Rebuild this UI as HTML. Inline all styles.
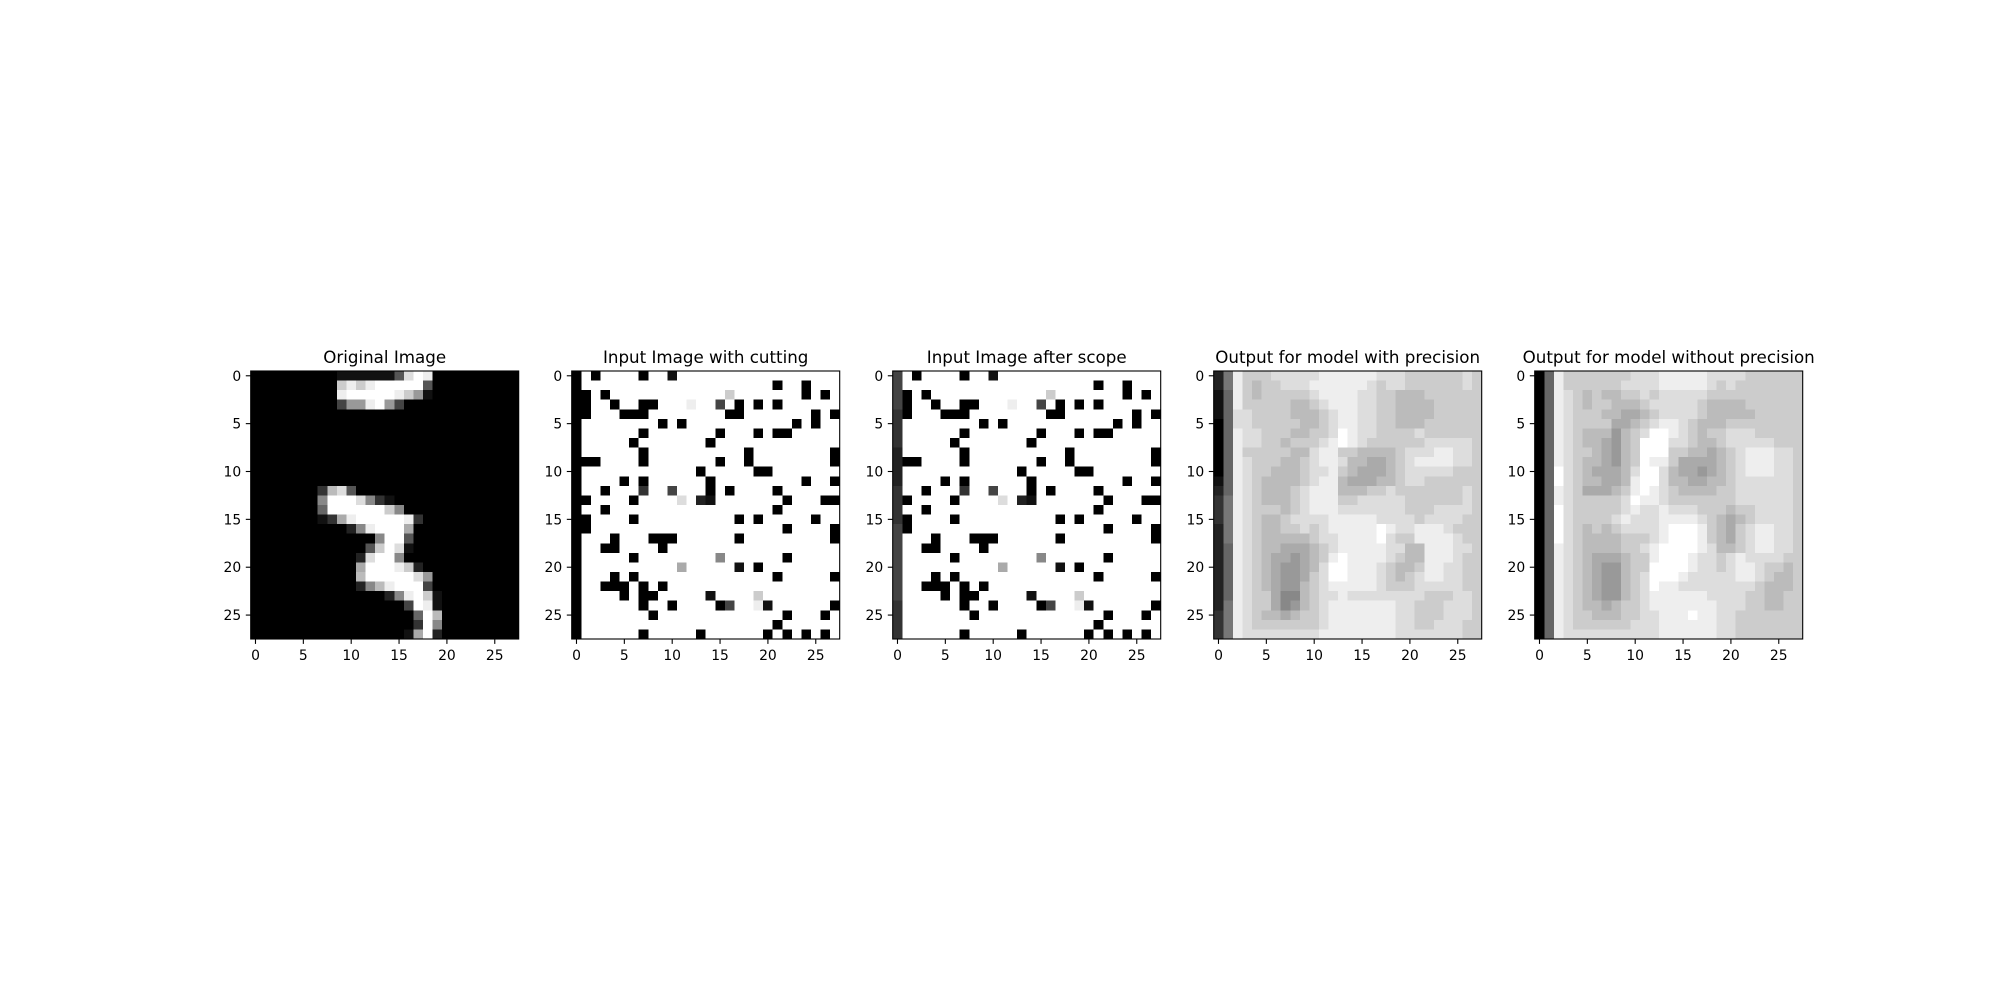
<!DOCTYPE html>
<html><head><meta charset="utf-8">
<style>
html,body{margin:0;padding:0;background:#fff;}
svg{display:block;font-family:"DejaVu Sans","Liberation Sans",sans-serif;}
</style></head>
<body>
<svg id="fig" width="2000" height="1000" viewBox="0 0 2000 1000" xmlns="http://www.w3.org/2000/svg"></svg>
<script>
const titles = ["Original Image","Input Image with cutting","Input Image after scope","Output for model with precision","Output for model without precision"];
const tickValues = [0,5,10,15,20,25];
const original = [
"0000000"+"0011111"+"15dfe00"+"0000000",
"0000000"+"00cecef"+"ffff500"+"0000000",
"0000000"+"00effff"+"fec9100"+"0000000",
"0000000"+"00499ef"+"9400000"+"0000000",
"0000000000000000000000000000",
"0000000000000000000000000000",
"0000000000000000000000000000",
"0000000000000000000000000000",
"0000000000000000000000000000",
"0000000000000000000000000000",
"0000000000000000000000000000",
"0000000000000000000000000000",
"0000000"+"3bd5000"+"0000000"+"0000000",
"0000000"+"8fffd83"+"1000000"+"0000000",
"0000000"+"6ffffff"+"c800000"+"0000000",
"0000000"+"13aefff"+"ffe3000"+"0000000",
"0000000"+"00028ef"+"ffa0000"+"0000000",
"0000000"+"0000008"+"ff50000"+"0000000",
"0000000"+"000005c"+"fd10000"+"0000000",
"0000000"+"00002df"+"f800000"+"0000000",
"0000000"+"0000aff"+"fec2000"+"0000000",
"0000000"+"0000bff"+"fffd900"+"0000000",
"0000000"+"000028b"+"efff400"+"0000000",
"0000000"+"0000000"+"28efc10"+"0000000",
"0000000"+"0000000"+"004fe10"+"0000000",
"0000000"+"0000000"+"0006fb0"+"0000000",
"0000000"+"0000000"+"0003f80"+"0000000",
"0000000"+"0000000"+"001af20"+"0000000"];
const cutting = [
"0f0ffff"+"0ff1fff"+"fffffff"+"fffffff",
"0ffffff"+"fffffff"+"fffffff"+"0ff0fff",
"00f0fff"+"fffffff"+"ffcffff"+"fff0f0f",
"00ff0ff"+"00fffef"+"f4f0f0f"+"0ffffff",
"00fff00"+"0ffffff"+"ff00fff"+"ffff0f0",
"0ffffff"+"ff0f0ff"+"fffffff"+"ff0f0ff",
"0ffffff"+"0ffffff"+"f0fff0f"+"00fffff",
"0fffff0"+"fffffff"+"0ffffff"+"fffffff",
"0ffffff"+"0ffffff"+"ffff0ff"+"ffffff0",
"000ffff"+"0ffffff"+"f0ff0ff"+"ffffff0",
"0ffffff"+"ffffff0"+"fffff00"+"fffffff",
"0ffff0f"+"0ffffff"+"0ffffff"+"fff0ff0",
"0ff0fff"+"3ff4fff"+"0f0ffff"+"0ffffff",
"00ffff0"+"ffffdf2"+"1ffffff"+"f0fff00",
"0ff0fff"+"fffffff"+"fffffff"+"0ffffff",
"00ffff0"+"fffffff"+"fff0f0f"+"ffff0ff",
"00fffff"+"fffffff"+"fffffff"+"f0ffff0",
"0fff0ff"+"f000fff"+"fff0fff"+"ffffff0",
"0ff00ff"+"ff0ffff"+"fffffff"+"fffffff",
"0fffff0"+"fffffff"+"f8fffff"+"f0fffff",
"0ffffff"+"ffffaff"+"fff1f0f"+"fffffff",
"0fff0f0"+"fffffff"+"fffffff"+"0fffff0",
"0ff000f"+"0f0ffff"+"fffffff"+"fffffff",
"0ffff0f"+"00fffff"+"1ffffcf"+"fffffff",
"0ffffff"+"0ff0fff"+"f04ffe1"+"ffffff0",
"0ffffff"+"f0fffff"+"fffffff"+"f0fff0f",
"0ffffff"+"fffffff"+"fffffff"+"0ffffff",
"0ffffff"+"0fffff0"+"ffffff0"+"f0f0f0f"];
const scopeCol0 = "4444333322223333444444443333";
const withPrecision = [
"27ecccd"+"ddddeee"+"eeedddc"+"cccccdc",
"27ecbcc"+"dddeeee"+"eedcddc"+"cccccdc",
"16ecbcc"+"cccdeee"+"eddccbb"+"bcccccc",
"16ecccc"+"cbbcdee"+"eddccbb"+"bbccccc",
"16ddccc"+"cbbbcde"+"eddccbb"+"bbccccc",
"06ddccc"+"ccbbcde"+"eddccbb"+"bcccccc",
"06eddcc"+"cbbccdf"+"eddcccc"+"dcccccc",
"06eddcc"+"bcccdef"+"edccccc"+"cdddddc",
"06ecccc"+"cbbdeec"+"cbbbbcd"+"ddeeddc",
"06edccc"+"bbcdeed"+"bbaabcd"+"eeeeddc",
"06edccb"+"bbcddec"+"baaabcd"+"ddddccc",
"16edcbb"+"bbcdeeb"+"aaabbcd"+"dcccccc",
"26edcbb"+"bcdeeeb"+"bbccdcc"+"cccccdc",
"37edcbb"+"bcdeeec"+"cdddddc"+"cccccdc",
"37edccc"+"bcdeeed"+"ddddddc"+"ccddddc",
"37edcbb"+"cddddee"+"eeedddd"+"cddddcc",
"27edcbb"+"ccdcdee"+"eeefedd"+"eeedccc",
"27edcbb"+"bbbcdde"+"eeefdcc"+"eeeedcc",
"26edcbb"+"aaabcde"+"eeeeddb"+"beeeddc",
"26edcba"+"a9abcef"+"eeeedcb"+"beeedcc",
"26edcba"+"99abdff"+"eeedcbb"+"ceeddcc",
"26edcba"+"99acdff"+"eeedcbc"+"deeddcc",
"26edcba"+"99bcdee"+"eeedccc"+"dddddcc",
"26edcca"+"88bcdde"+"ddddddd"+"dcccddc",
"27edcca"+"89bcdee"+"eeeeedd"+"cccdddc",
"37edcbb"+"abccdee"+"eeeeedd"+"cccdddc",
"37edccc"+"ccccdee"+"eeeeedd"+"ccdddcc",
"37edddd"+"ddddeee"+"eeeeedd"+"dddddcc"];
const withoutPrecision = [
"06ecccc"+"cccddde"+"eeeeddd"+"dcccccc",
"06ecccc"+"ccdddde"+"eeeedcd"+"ccccccc",
"06edcbc"+"bbccdcd"+"ddddccc"+"ccccccc",
"06edcbc"+"cbbbcdd"+"dddcbbb"+"bcccccc",
"06edccc"+"bbaabcd"+"dddcbbb"+"bbccccc",
"06edccc"+"caabcde"+"edcbbbc"+"ccccccc",
"06edcbb"+"b9bcdff"+"edcbccd"+"ddccccc",
"06edcbb"+"a9bcfff"+"ddcbbcd"+"ddddccc",
"06edccb"+"a9bcfff"+"ccbbabc"+"deeeddc",
"06edcbb"+"a9bcfee"+"caaaabc"+"deeeddc",
"06fdcba"+"aabdffd"+"baa9abc"+"deeeddc",
"06fdcbb"+"aabeffd"+"bbaabbc"+"ddddddc",
"06edcaa"+"abcefed"+"cbbbbcc"+"ddddddc",
"06edccc"+"ccdfeed"+"ccccccc"+"ddddddc",
"06fdccc"+"ccdedde"+"dddcccb"+"ccddddc",
"06fdccc"+"cdeddde"+"eeedcba"+"bcddddc",
"06fdcbc"+"bcdddde"+"fffecba"+"cdeeddc",
"06fdcbb"+"bbcccde"+"fffecba"+"cdeeddc",
"06edcbb"+"bbccdef"+"fffedbb"+"cdeeddc",
"06edcba"+"aabccef"+"ffeddcd"+"eddddcc",
"06edcba"+"99bccff"+"ffeddcd"+"eedccbc",
"06edcba"+"99bcdff"+"feddddd"+"eedcbbc",
"06edcba"+"99bcdfe"+"edddddd"+"ddcbbbc",
"06edcba"+"99bcdee"+"eeeeddd"+"dccbbcc",
"06edcbb"+"abccdee"+"eeeeedd"+"dccbbcc",
"06edccb"+"bbccdde"+"eefeedd"+"ccccccc",
"06edccc"+"cccddde"+"eeeeedd"+"ccccccc",
"06edddd"+"dddddde"+"eeeeedd"+"ccccccc"];

const NS = "http://www.w3.org/2000/svg";
const svg = document.getElementById("fig");
const axLeft0 = 250.7, axStep = 321, axTop = 371, axSize = 268, N = 28;
const cell = axSize / N;
function mk(tag, attrs, parent) {
  const e = document.createElementNS(NS, tag);
  for (const k in attrs) e.setAttribute(k, attrs[k]);
  (parent || svg).appendChild(e);
  return e;
}
function grayOf(ch) {
  const v = Math.round(parseInt(ch, 16) / 15 * 255);
  return "rgb(" + v + "," + v + "," + v + ")";
}
const scopeImg = cutting.map((row, r) => scopeCol0[r] + row.slice(1));
const images = [original, cutting, scopeImg, withPrecision, withoutPrecision];
const panelNames = ["original-image", "cutting-image", "scope-image", "precision-output", "no-precision-output"];

images.forEach((img, p) => {
  const x0 = axLeft0 + p * axStep;
  const g = mk("g", {});
  
  
  const t = mk("text", {x: x0 + axSize / 2, y: axTop - 8, "text-anchor": "middle", "font-size": 16.7, fill: "#000"}, g);
  t.textContent = titles[p];
  
  
  const hm = mk("g", {"shape-rendering": "crispEdges"}, g);
  
  
  const xs = c => x0 + c * cell;
  const ys = r => axTop + r * cell;
  for (let r = 0; r < N; r++) {
    for (let c = 0; c < N; c++) {
      const ch = img[r][c] || "0";
      const rect = mk("rect", {x: xs(c), y: ys(r), width: cell + 0.4, height: cell + 0.4, fill: grayOf(ch)}, hm);
      
      
    }
  }
  const frame = mk("rect", {x: x0, y: axTop, width: axSize, height: axSize, fill: "none", stroke: "#000", "stroke-width": 1.1}, g);
  
  
  tickValues.forEach(v => {
    const tx = x0 + (v + 0.5) * cell;
    const tl = mk("line", {x1: tx, x2: tx, y1: axTop + axSize, y2: axTop + axSize + 4.9, stroke: "#000", "stroke-width": 1.1}, g);
    
    
    const lx = mk("text", {x: tx, y: axTop + axSize + 21, "text-anchor": "middle", "font-size": 13.9, fill: "#000"}, g);
    lx.textContent = v;
    
    
    const ty = axTop + (v + 0.5) * cell;
    const yl = mk("line", {x1: x0 - 4.9, x2: x0, y1: ty, y2: ty, stroke: "#000", "stroke-width": 1.1}, g);
    
    
    const ly = mk("text", {x: x0 - 9.5, y: ty + 5, "text-anchor": "end", "font-size": 13.9, fill: "#000"}, g);
    ly.textContent = v;
    
    
  });
});
</script>
</body></html>
